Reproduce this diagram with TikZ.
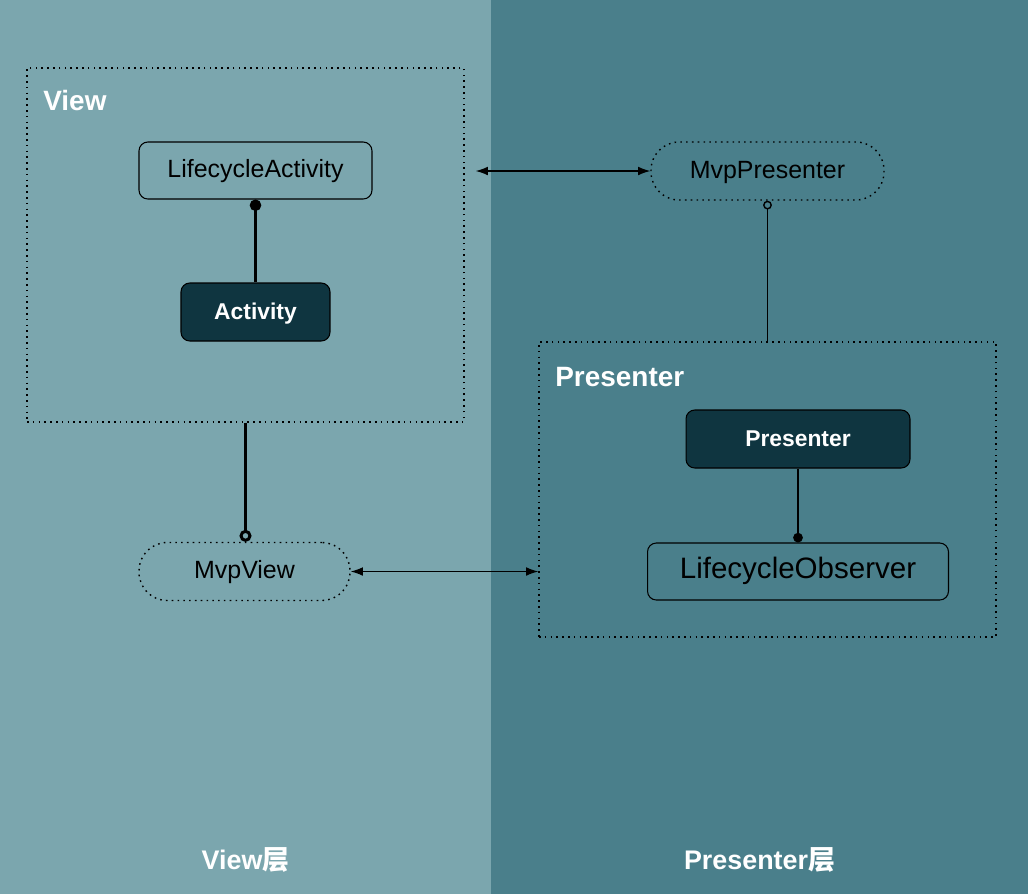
\documentclass[tikz,border=0pt]{standalone}
\usepackage{fontspec}
\setmainfont{Liberation Sans}
\newfontfamily\cjk{Noto Sans CJK SC}
\usetikzlibrary{arrows.meta}
\definecolor{viewbg}{HTML}{7BA6AE}
\definecolor{presbg}{HTML}{4A7F8B}
\definecolor{darkbox}{HTML}{0F3540}
\tikzset{
	cls/.style={draw,rounded corners=5pt,line width=0.6pt,minimum height=1.14cm,text height=0.85em,text depth=0pt,font=\fontsize{14.2}{17}\selectfont},
	impl/.style={draw,fill=darkbox,rounded corners=5pt,line width=0.6pt,text=white,minimum height=1.16cm,text height=0.85em,text depth=0pt,font=\fontsize{13}{16}\selectfont\bfseries},
	iface/.style={draw,dash pattern={on 0.9pt off 2.4pt},line width=0.8pt,rounded corners=16pt,minimum height=1.16cm,text height=0.85em,text depth=0pt,font=\fontsize{14.2}{17}\selectfont},
	layerbox/.style={draw,dash pattern={on 0.9pt off 2.4pt},line width=0.8pt},
	boxtitle/.style={text=white,font=\fontsize{15.9}{19}\selectfont\bfseries,anchor=west,inner sep=0pt},
	layername/.style={text=white,font=\fontsize{15.3}{18}\selectfont\bfseries},
	link/.style={<->,>={Latex[length=7pt,width=5pt]},line width=0.7pt}
}
\begin{document}
\begin{tikzpicture}[x=0.02cm,y=-0.02cm]
	% panels
	\fill[viewbg] (0,0) rectangle (491,894);
	\fill[presbg] (491,0) rectangle (1028,894);
	% view side
	\node[layerbox,minimum width=8.74cm,minimum height=7.08cm] (viewbox) at (245.5,245) {};
	\node[boxtitle] (viewtitle) at (43,101) {View};
	\node[cls,minimum width=4.66cm] (la) at (255.5,170.5) {LifecycleActivity};
	\node[impl,minimum width=2.98cm] (act) at (255.5,312) {Activity};
	\node[iface,minimum width=4.22cm] (mv) at (244.5,571.5) {MvpView};
	% presenter side
	\node[layerbox,minimum width=9.14cm,minimum height=5.9cm] (presbox) at (767.5,489.5) {};
	\node[boxtitle] (prestitle) at (555,377) {Presenter};
	\node[iface,minimum width=4.66cm] (mp) at (767.5,171) {MvpPresenter};
	\node[impl,minimum width=4.48cm] (pr) at (798,439) {Presenter};
	\node[cls,minimum width=6.02cm,font=\fontsize{16.8}{20}\selectfont] (lo) at (798,571.5) {LifecycleObserver};
	% links
	\draw[line width=1.7pt,{Circle[length=6.5pt]}-] (la.south) -- (act.north);
	\draw[line width=1.7pt,-{Circle[open,length=6.8pt]}] (viewbox.south) -- (viewbox.south |- mv.north);
	\draw[line width=0.8pt,{Circle[open,length=5pt]}-] (mp.south) -- (presbox.north);
	\draw[line width=0.8pt,-{Circle[length=5.5pt]}] (pr.south) -- (lo.north);
	\draw[link,shorten <=0.22cm] (viewbox.east |- mp.west) -- (mp.west);
	\draw[link] (mv.east) -- (presbox.west |- mv.east);
	% layer names
	\node[layername] (viewlayer) at (245.5,860) {View{\cjk 层}};
	\node[layername] (preslayer) at (759.5,860) {Presenter{\cjk 层}};
\end{tikzpicture}
\end{document}
